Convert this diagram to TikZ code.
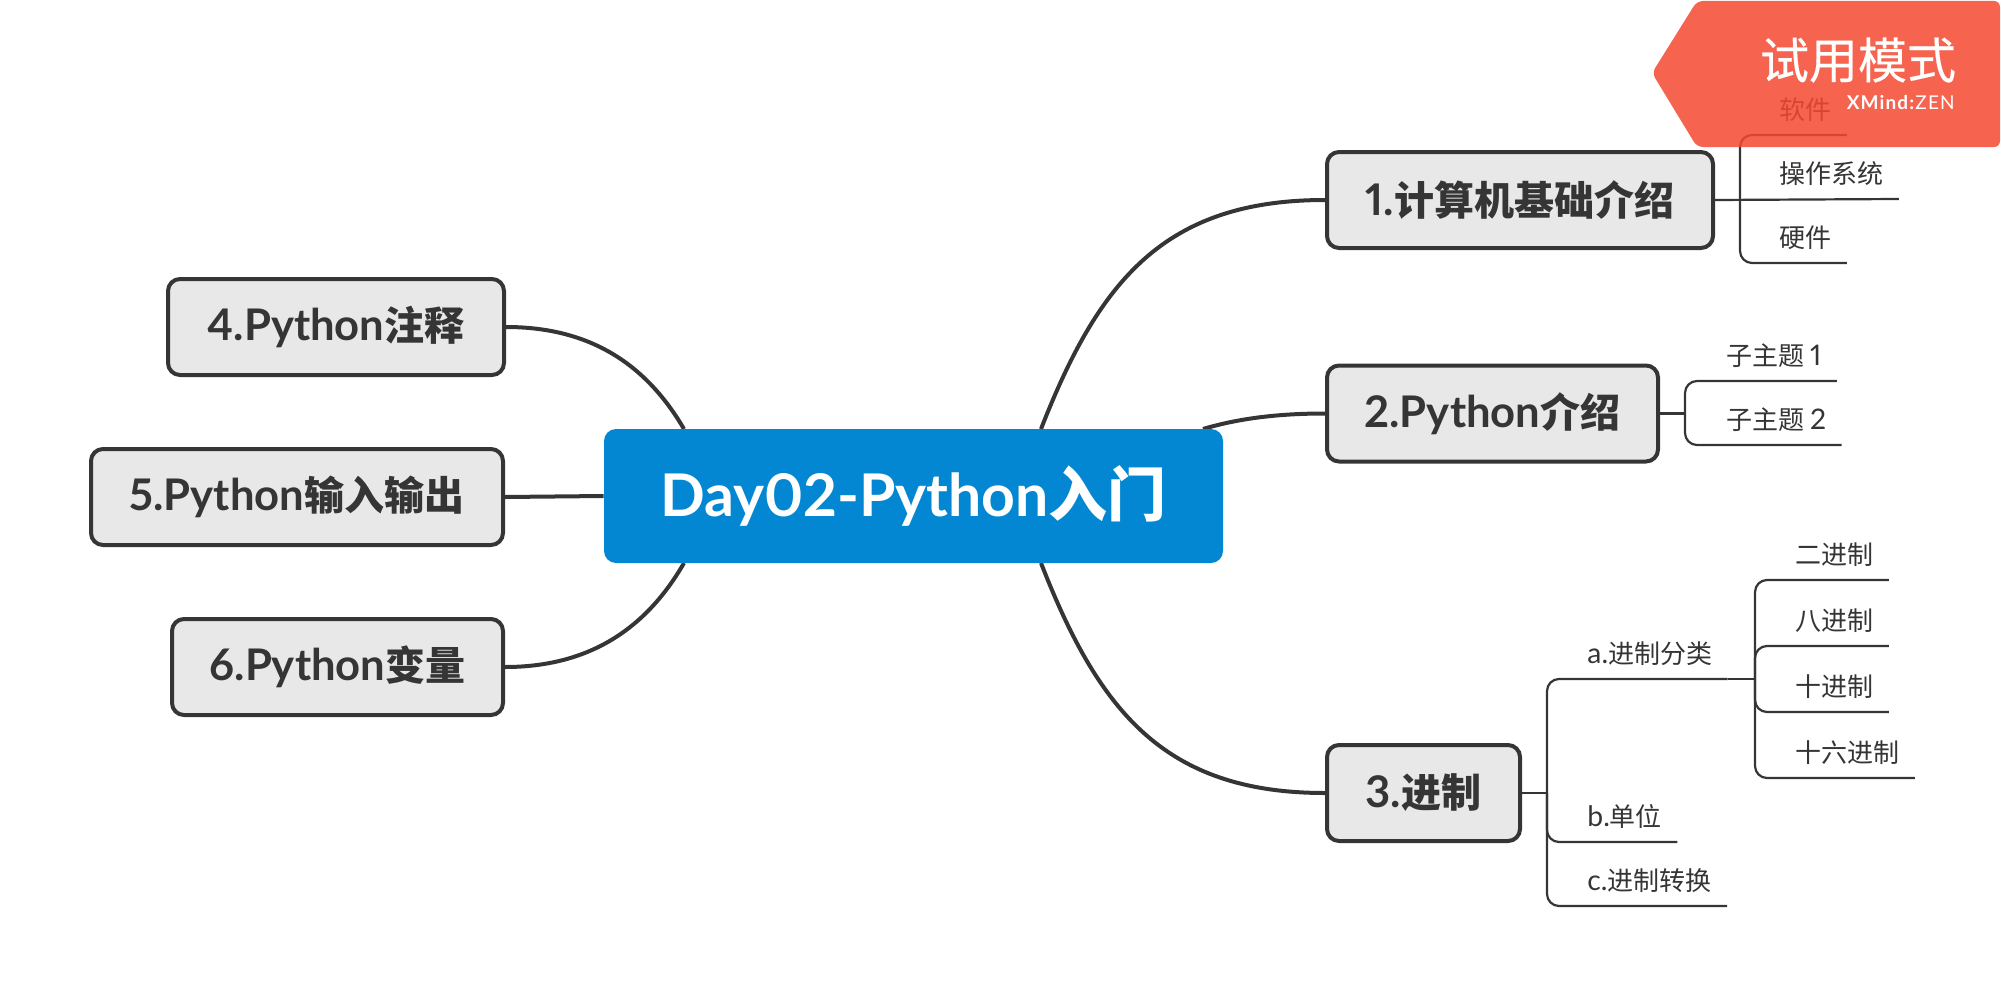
\documentclass[tikz,border=0pt]{standalone}
\usepackage{fontspec}
\setmainfont{Noto Sans CJK SC}
\newfontfamily\latfont[Scale=1.09,Numbers=Proportional]{Lato}
\newfontfamily\badgefont[FakeBold=.3]{Noto Sans CJK SC}
\newfontfamily\brandfont[LetterSpace=6]{Lato}
\usetikzlibrary{backgrounds}
\newcommand{\la}[1]{{\latfont #1}}
\definecolor{inkgrey}{HTML}{353535}
\definecolor{boxgrey}{HTML}{E8E8E8}
\definecolor{mainblue}{HTML}{0387D2}
\definecolor{badgered}{HTML}{F54830}
\tikzset{
  x=.5pt,y=-.5pt,
  topic/.style={draw=inkgrey,line width=2pt,fill=boxgrey,rounded corners=6pt,minimum height=48pt,inner sep=0pt,text=inkgrey,font=\fontsize{20pt}{24pt}\selectfont\bfseries},
  sub/.style={anchor=south west,inner xsep=7.5pt,inner ysep=7.5pt,text depth=0pt,text=inkgrey,font=\fontsize{13pt}{16pt}\selectfont},
  curve/.style={draw=inkgrey,line width=2pt},
  fine/.style={draw=inkgrey,line width=1.1pt,rounded corners=6pt},
}
\begin{document}
\begin{tikzpicture}
  \useasboundingbox (0,0) rectangle (2001,995);
  \node[fill=mainblue,rounded corners=6pt,minimum width=309.5pt,minimum height=67pt,inner sep=0pt,text=white,font=\fontsize{27pt}{32pt}\selectfont\bfseries] (main) at (913.5,496) {\la{Day02-Python}{\fontsize{29.5pt}{32pt}\selectfont 入门}};
  \node[topic,minimum width=193pt] (sys) at (1520,200) {\la{1.}计算机基础介绍};
  \node[topic,minimum width=165.5pt] (py) at (1492.5,413.5) {\la{2.Python}介绍};
  \node[topic,minimum width=96.5pt] (base) at (1423.5,793) {\la{3.}进制};
  \node[topic,minimum width=168pt] (note) at (336,327) {\la{4.Python}注释};
  \node[topic,minimum width=206pt] (io) at (297,497) {\la{5.Python}输入输出};
  \node[topic,minimum width=165.5pt] (var) at (337.5,667) {\la{6.Python}变量};
  % second level
  \node[sub] (soft) at (1764,135) {软件};
  \node[sub] (os) at (1764,199) {操作系统};
  \node[sub] (hard) at (1764,263) {硬件};
  \node[sub] (one) at (1711,381) {子主题 \la{1}};
  \node[sub] (two) at (1711,445) {子主题 \la{2}};
  \node[sub] (kinds) at (1572,679) {\la{a.}进制分类};
  \node[sub] (unit) at (1572,842) {\la{b.}单位};
  \node[sub] (conv) at (1572,906) {\la{c.}进制转换};
  \node[sub] (binary) at (1780,580) {二进制};
  \node[sub] (octal) at (1780,646) {八进制};
  \node[sub] (decimal) at (1780,712) {十进制};
  \node[sub] (hexa) at (1780,778) {十六进制};
  \coordinate (forka) at (1740,200);
  \coordinate (forkb) at (1685,413.5);
  \coordinate (forkc) at (1547,793);
  \coordinate (forkd) at (1755,679);
  \begin{scope}[on background layer]
    \draw[curve] (sys.west) .. controls +(-160,0) and (1099,280) .. (1041,429);
    \draw[curve] (py.west) .. controls +(-45,0) and (1240,418) .. (1203,429);
    \draw[curve] (base.west) .. controls +(-160,0) and (1099,712) .. (1041,563);
    \draw[curve] (note.east) .. controls +(85,0) and (646.5,365) .. (684,429);
    \draw[curve] (io.east) -- (main.west);
    \draw[curve] (var.east) .. controls +(85,0) and (646.5,628) .. (684,563);
    \draw[fine] (sys.east) -- (os.south east);
    \draw[fine] (soft.south east) -| (forka) |- (hard.south east);
    \draw[fine] (py.east) -- (forkb);
    \draw[fine] (one.south east) -| (forkb) |- (two.south east);
    \draw[fine] (base.east) -- (forkc);
    \draw[fine] (kinds.south east) -- (forkd);
    \draw[fine] (kinds.south east) -| (forkc) |- (conv.south east);
    \draw[fine] (forkc) |- (unit.south east);
    \draw[fine] (binary.south east) -| (forkd) |- (hexa.south east);
    \draw[fine] (octal.south east) -| (forkd) |- (decimal.south east);
  \end{scope}
  % trial badge
  \fill[badgered,opacity=.85,rounded corners=3pt] (1652,73) -- (1697,1) -- (2000,1) -- (2000,147) -- (1697,147) -- cycle;
  \node[text=white,inner sep=0pt,font=\fontsize{24.5pt}{28pt}\badgefont\selectfont] (trial) at (1858,60) {试用模式};
  \node[anchor=east,text=white,inner sep=0pt,font=\fontsize{9.5pt}{12pt}\brandfont\selectfont] (brand) at (1955,103) {\textbf{XMind:}ZEN};
\end{tikzpicture}
\end{document}
